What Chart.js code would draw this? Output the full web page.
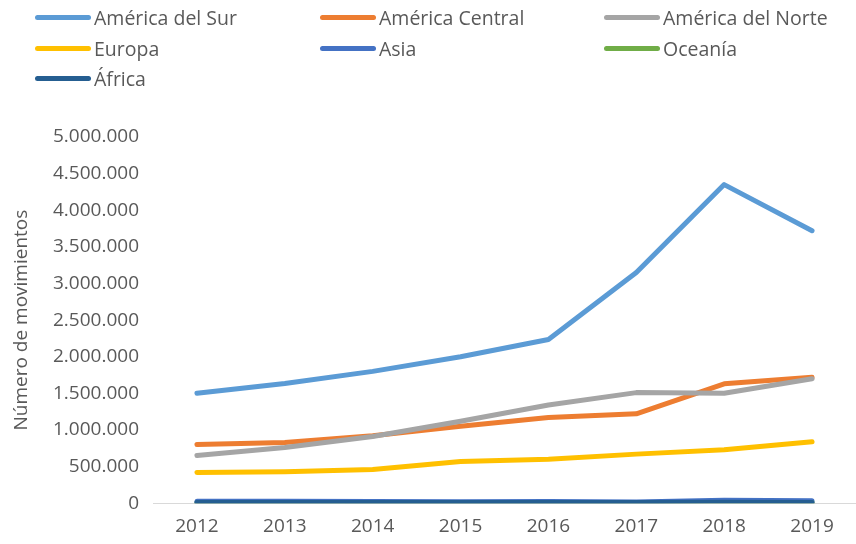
<!DOCTYPE html>
<html>
<head>
<meta charset="utf-8">
<script src="https://cdn.jsdelivr.net/npm/chart.js@4"></script>
<style>
    html, body { margin: 0; padding: 0; background: #fff; }
    #wrap { position: relative; width: 856px; height: 544px; }
    #legend { position: absolute; left: 0; top: 0; width: 856px; height: 100px;
              font-family: 'Open Sans', sans-serif; font-size: 19.5px; color: #595959; }
    .item { position: absolute; display: flex; align-items: center; height: 30px; white-space: nowrap; }
    .swatch { width: 56px; height: 5px; border-radius: 3px; margin-right: 3px; }
</style>
</head>
<body>
<div id="wrap">
    <canvas id="movChart" width="856" height="544"></canvas>
    <div id="legend"></div>
</div>
<script>
const years = ['2012', '2013', '2014', '2015', '2016', '2017', '2018', '2019'];

const sur     = [1500000, 1635000, 1800000, 2000000, 2235000, 3150000, 4350000, 3720000];
const central = [800000, 830000, 920000, 1050000, 1170000, 1220000, 1630000, 1720000];
const norte   = [650000, 760000, 910000, 1120000, 1340000, 1510000, 1500000, 1700000];
const europa  = [420000, 430000, 460000, 570000, 600000, 670000, 730000, 840000];
const asia    = [25000, 28000, 22000, 20000, 22000, 18000, 40000, 35000];
const oceania = [4000, 4000, 4000, 5000, 5000, 5000, 6000, 6000];
const africa  = [8000, 9000, 8000, 9000, 10000, 9000, 12000, 11000];

const yTicks = [0, 500000, 1000000, 1500000, 2000000, 2500000, 3000000, 3500000, 4000000, 4500000, 5000000];

function miles(v) {
    return String(v).replace(/\B(?=(\d{3})+(?!\d))/g, '.');
}

// las series posteriores se dibujan encima
function serie(label, data, color, i) {
    return {
        label: label,
        data: data,
        borderColor: color,
        backgroundColor: color,
        borderWidth: 5,
        borderCapStyle: 'round',
        borderJoinStyle: 'round',
        pointRadius: 0,
        tension: 0,
        fill: false,
        order: -i
    };
}

const gris = '#595959';
const fuente = { family: "'Open Sans', sans-serif", size: 19 };

const chart = new Chart(document.getElementById('movChart').getContext('2d'), {
    type: 'line',
    data: {
        labels: years,
        datasets: [
            serie('América del Sur', sur, '#5B9BD5', 0),
            serie('América Central', central, '#ED7D31', 1),
            serie('América del Norte', norte, '#A5A5A5', 2),
            serie('Europa', europa, '#FFC000', 3),
            serie('Asia', asia, '#4472C4', 4),
            serie('Oceanía', oceania, '#70AD47', 5),
            serie('África', africa, '#255E91', 6)
        ]
    },
    options: {
        responsive: false,
        animation: false,
        layout: { padding: { top: 137, right: 0, bottom: 2, left: 0 } },
        plugins: {
            legend: { display: false },
            tooltip: { enabled: false }
        },
        scales: {
            x: {
                offset: true,
                grid: { display: false },
                border: { display: true, color: '#D9D9D9', width: 1 },
                ticks: { color: gris, font: fuente, padding: 4, maxRotation: 0 }
            },
            y: {
                min: 0,
                max: 5000000,
                grid: { display: false },
                border: { display: false },
                afterBuildTicks: (scale) => {
                    scale.ticks = yTicks.map(v => ({ value: v }));
                },
                afterFit: (scale) => { scale.width = 153; },
                ticks: {
                    color: gris,
                    font: fuente,
                    padding: 6,
                    callback: (v) => miles(v)
                },
                title: {
                    display: true,
                    text: 'Número de movimientos',
                    color: gris,
                    font: fuente,
                    padding: { top: 10, bottom: 0 }
                }
            }
        }
    }
});

// leyenda en tres columnas
const leyenda = document.getElementById('legend');
const colX = [35, 320, 604];
const filaY = [2, 33, 63];
chart.data.datasets.forEach((ds, i) => {
    const item = document.createElement('div');
    item.className = 'item';
    item.style.left = colX[i % 3] + 'px';
    item.style.top = filaY[Math.floor(i / 3)] + 'px';
    const sw = document.createElement('span');
    sw.className = 'swatch';
    sw.style.background = ds.borderColor;
    const txt = document.createElement('span');
    txt.textContent = ds.label;
    item.appendChild(sw);
    item.appendChild(txt);
    leyenda.appendChild(item);
});
</script>
</body>
</html>
